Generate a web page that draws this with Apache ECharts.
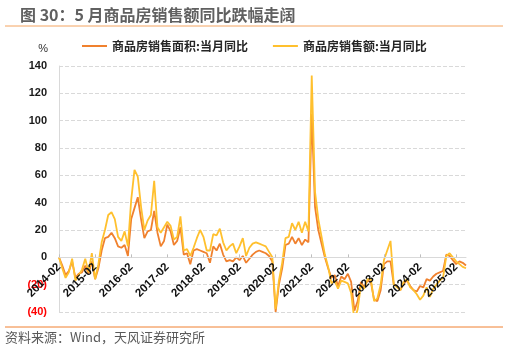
<!DOCTYPE html>
<html>
<head>
<meta charset="utf-8">
<script src="https://cdn.jsdelivr.net/npm/echarts@6/dist/echarts.min.js"></script>
<style>
  html, body { margin: 0; padding: 0; background: #fff; }
  #main { width: 508px; height: 351px; }
</style>
</head>
<body>
<div id="main"></div>
<script>
// monthly YoY, Jan is merged into Feb, so each year runs 02..12
const areaYoY = [
  0, -6, -13, -10, -3, -15, -12, -11, -6, -12, -3,          // 2014
  -16, -8, 5, 14, 15, 18, 14, 8, 7, 9, 1,                   // 2015
  28, 36, 44, 28, 14, 19, 20, 34, 18, 8, 12,                // 2016
  24, 19, 9, 12, 22, 2, 3, -5, 5, 6, 5,                     // 2017
  4, 3, -4, 8, 5, 10, 2, -3, -2, -3, 0,                     // 2018
  -2, 1, -4, -1, 2, 4, 5, 4, 3, 1, -3,                      // 2019
  -40, -20, -8, 9, 10, 15, 10, 14, 9, 13, 11,               // 2020
  105, 37, 20, 10, 0, -8, -15, -13, -21, -14, -16,          // 2021
  -12, -18, -39, -32, -18, -22, -17, -18, -31, -32, -24,    // 2022
  -5, -3, -3, -20, -21, -24, -19, -17, -21, -24, -25,       // 2023
  -21, -22, -16, -17, -14, -12, -11, -10, 2, 1, -2,         // 2024
  -5, -3, -4, -6                                            // 2025
];
const valueYoY = [
  0, -8, -15, -11, -1, -17, -13, -9, -1, -11, 3,            // 2014
  -16, -5, 11, 20, 31, 33, 28, 15, 12, 19, 8,               // 2015
  42, 64, 59, 37, 20, 27, 31, 56, 22, 18, 22,               // 2016
  26, 23, 13, 15, 30, 5, 6, 1, 7, 14, 20,                   // 2017
  15, 5, 5, 17, 16, 21, 11, 5, 8, 10, 3,                    // 2018
  8, 14, 1, 7, 10, 11, 10, 9, 8, 4, 0,                      // 2019
  -38, -17, -4, 14, 15, 25, 20, 26, 18, 26, 19,             // 2020
  133, 48, 28, 15, 2, -7, -19, -17, -23, -17, -18,          // 2021
  -19, -26, -46, -38, -20, -23, -16, -16, -32, -30, -20,    // 2022
  -2, 5, 12, -20, -22, -24, -18, -16, -22, -24, -27,        // 2023
  -31, -28, -22, -29, -23, -20, -17, -15, 1, 3, 0,          // 2024
  -3, -5, -7, -8                                            // 2025
];
const seriesNames = ['商品房销售面积:当月同比', '商品房销售额:当月同比'];

// category labels 2014-02 .. 2025-05
const categories = [];
for (let y = 2014; y <= 2025; y++) {
  for (let m = 2; m <= 12; m++) {
    if (y === 2025 && m > 5) break;
    categories.push(y + '-' + String(m).padStart(2, '0'));
  }
}

const yMin = -40;
const yMax = 140;
const gridTop = 66;
const gridBottom = 39;
const gridHeight = 351 - gridTop - gridBottom;
// x axis sits on the zero line, labels hang below it inside the plot
const zeroOffset = -gridHeight * (0 - yMin) / (yMax - yMin);

const chart = echarts.init(document.getElementById('main'));

const option = {
  backgroundColor: '#ffffff',
  animation: false,
  textStyle: { fontFamily: 'Liberation Sans, Noto Sans CJK SC, sans-serif' },
  title: {
    text: '图 30：5 月商品房销售额同比跌幅走阔',
    left: 15,
    top: 2,
    textStyle: {
      fontSize: 16,
      fontWeight: 'bold',
      color: '#606060',
      fontFamily: 'Noto Sans CJK SC',
    },
  },
  legend: {
    data: seriesNames,
    left: 77,
    top: 35,
    icon: 'rect',
    itemWidth: 25,
    itemHeight: 2,
    itemGap: 25,
    textStyle: {
      fontSize: 12,
      fontWeight: 'bold',
      color: '#262626',
      fontFamily: 'Noto Sans CJK SC',
    },
  },
  grid: { left: 59, right: 42, top: gridTop, bottom: gridBottom },
  xAxis: {
    type: 'category',
    boundaryGap: false,
    data: categories,
    offset: zeroOffset,
    z: 5,
    axisLine: { onZero: false, lineStyle: { color: '#d9d9d9' } },
    axisTick: { inside: true, length: 3, interval: 10, lineStyle: { color: '#bfbfbf' } },
    axisLabel: {
      interval: 10,
      rotate: 45,
      fontSize: 11.5,
      fontWeight: 'bold',
      color: '#111',
      margin: 8,
    },
  },
  yAxis: {
    type: 'value',
    min: yMin,
    max: yMax,
    interval: 20,
    name: '%',
    nameGap: 12,
    nameTextStyle: { align: 'right', padding: [0, 11, 0, 0], fontSize: 11, color: '#333' },
    axisLine: { show: true, lineStyle: { color: '#d9d9d9' } },
    axisTick: { show: false },
    splitLine: { lineStyle: { type: 'dashed', color: '#d9d9d9' } },
    axisLabel: {
      margin: 12,
      fontSize: 11,
      fontWeight: 'bold',
      formatter: (v) => (v < 0 ? '(' + -v + ')' : String(v)),
      color: (v) => (Number(v) < 0 ? '#ff0000' : '#1a1a1a'),
    },
  },
  series: [
    {
      name: seriesNames[0],
      type: 'line',
      data: areaYoY,
      symbol: 'none',
      color: '#F0812E',
      lineStyle: { width: 1.8, color: '#F0812E' },
    },
    {
      name: seriesNames[1],
      type: 'line',
      data: valueYoY,
      symbol: 'none',
      color: '#FFC02E',
      lineStyle: { width: 1.8, color: '#FFC02E' },
    },
  ],
  graphic: [
    { type: 'line', shape: { x1: 5, y1: 26, x2: 503, y2: 26 }, style: { stroke: '#F4A460', lineWidth: 1 } },
    { type: 'line', shape: { x1: 5, y1: 327, x2: 503, y2: 327 }, style: { stroke: '#F08030', lineWidth: 1 } },
    {
      type: 'text',
      left: 5,
      top: 331,
      style: {
        text: '资料来源：Wind，天风证券研究所',
        fontSize: 13,
        fill: '#595959',
        fontFamily: 'Noto Sans CJK SC',
      },
    },
  ],
};

chart.setOption(option);
</script>
</body>
</html>
